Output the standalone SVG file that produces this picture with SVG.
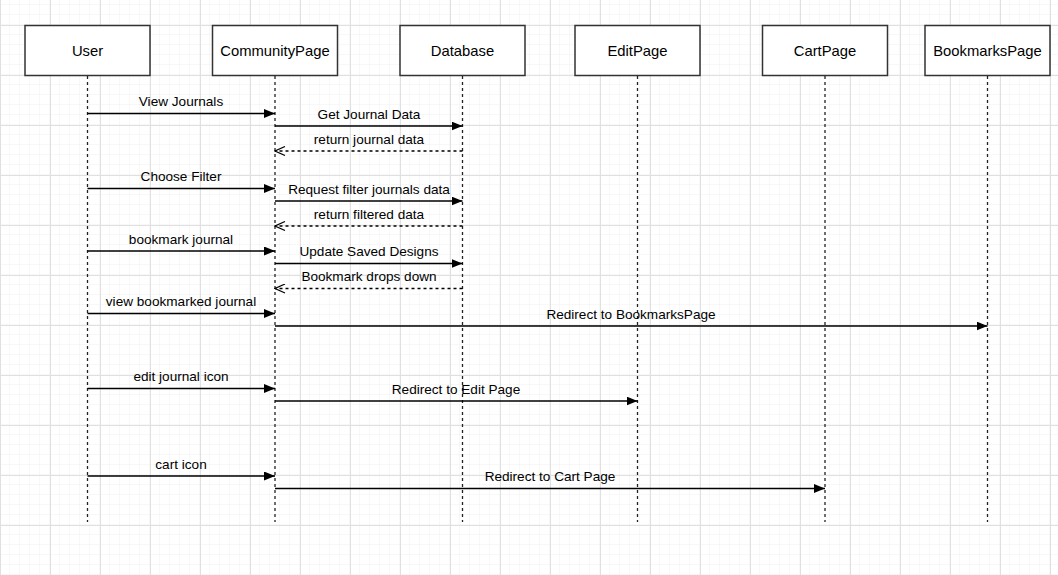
<svg xmlns="http://www.w3.org/2000/svg" width="1058" height="575" viewBox="0 0 1058 575">
<defs>
<pattern id="minor" width="10" height="10" patternUnits="userSpaceOnUse" x="0" y="5">
<path d="M10 0V10M0 10H10" fill="none" stroke="#f1f1f1" stroke-width="1"/>
</pattern>
<pattern id="major" width="50" height="50" patternUnits="userSpaceOnUse" x="0" y="25">
<path d="M0.5 0V50M0 0.5H50" fill="none" stroke="#e0e0e0" stroke-width="1"/>
</pattern>
<marker id="fill" viewBox="0 0 11 9" refX="11" refY="4.5" markerWidth="11" markerHeight="9" markerUnits="userSpaceOnUse" orient="auto">
<path d="M0 0L11 4.5L0 9Z" fill="#000"/>
</marker>
<marker id="open" viewBox="0 0 12 10" refX="11" refY="5" markerWidth="12" markerHeight="10" markerUnits="userSpaceOnUse" orient="auto">
<path d="M1 0.5L11 5L1 9.5" fill="none" stroke="#000" stroke-width="1.2"/>
</marker>
<style>
.box{fill:#fff;stroke:#333;stroke-width:1.5}
.life{stroke:#222;stroke-width:1.3;stroke-dasharray:3 3;fill:none}
.msg{stroke:#000;stroke-width:1.3;fill:none;marker-end:url(#fill)}
.ret{stroke:#000;stroke-width:1.3;fill:none;stroke-dasharray:3 3;marker-end:url(#open)}
.nl{font-family:"Liberation Sans",Arial,sans-serif;font-size:14.8px;fill:#000;text-anchor:middle}
.ml{font-family:"Liberation Sans",Arial,sans-serif;font-size:13.6px;fill:#000;text-anchor:middle}
</style>
</defs>
<rect width="1058" height="575" fill="#fff"/>
<rect width="1058" height="575" fill="url(#minor)"/>
<rect width="1058" height="575" fill="url(#major)"/>

<g id="User"><rect class="box" x="25" y="25.5" width="125" height="50"/><text class="nl" x="87.5" y="55.5">User</text><line class="life" x1="87.5" y1="76" x2="87.5" y2="522"/></g>
<g id="CommunityPage"><rect class="box" x="212.5" y="25.5" width="125" height="50"/><text class="nl" x="275" y="55.5">CommunityPage</text><line class="life" x1="275" y1="76" x2="275" y2="522"/></g>
<g id="Database"><rect class="box" x="400" y="25.5" width="125" height="50"/><text class="nl" x="462.5" y="55.5">Database</text><line class="life" x1="462.5" y1="76" x2="462.5" y2="522"/></g>
<g id="EditPage"><rect class="box" x="575" y="25.5" width="125" height="50"/><text class="nl" x="637.5" y="55.5">EditPage</text><line class="life" x1="637.5" y1="76" x2="637.5" y2="522"/></g>
<g id="CartPage"><rect class="box" x="762.5" y="25.5" width="125" height="50"/><text class="nl" x="825" y="55.5">CartPage</text><line class="life" x1="825" y1="76" x2="825" y2="522"/></g>
<g id="BookmarksPage"><rect class="box" x="925" y="25.5" width="125" height="50"/><text class="nl" x="987.5" y="55.5">BookmarksPage</text><line class="life" x1="987.5" y1="76" x2="987.5" y2="522"/></g>

<g id="connectors">
<line class="msg" x1="87.5" y1="113.5" x2="275" y2="113.5"/>
<line class="msg" x1="275" y1="126" x2="462.5" y2="126"/>
<line class="ret" x1="462.5" y1="151" x2="275" y2="151"/>
<line class="msg" x1="87.5" y1="188.5" x2="275" y2="188.5"/>
<line class="msg" x1="275" y1="201" x2="462.5" y2="201"/>
<line class="ret" x1="462.5" y1="226" x2="275" y2="226"/>
<line class="msg" x1="87.5" y1="251" x2="275" y2="251"/>
<line class="msg" x1="275" y1="263.5" x2="462.5" y2="263.5"/>
<line class="ret" x1="462.5" y1="288.5" x2="275" y2="288.5"/>
<line class="msg" x1="87.5" y1="313.5" x2="275" y2="313.5"/>
<line class="msg" x1="275" y1="326" x2="987.5" y2="326"/>
<line class="msg" x1="87.5" y1="388.5" x2="275" y2="388.5"/>
<line class="msg" x1="275" y1="401" x2="637.5" y2="401"/>
<line class="msg" x1="87.5" y1="476" x2="275" y2="476"/>
<line class="msg" x1="275" y1="488.5" x2="825" y2="488.5"/>
</g>
<g id="labels">
<text class="ml" x="181" y="106">View Journals</text>
<text class="ml" x="369" y="119">Get Journal Data</text>
<text class="ml" x="369" y="144">return journal data</text>
<text class="ml" x="181" y="181">Choose Filter</text>
<text class="ml" x="369" y="194">Request filter journals data</text>
<text class="ml" x="369" y="219">return filtered data</text>
<text class="ml" x="181" y="244">bookmark journal</text>
<text class="ml" x="369" y="256">Update Saved Designs</text>
<text class="ml" x="369" y="281">Bookmark drops down</text>
<text class="ml" x="181" y="306">view bookmarked journal</text>
<text class="ml" x="631" y="319">Redirect to BookmarksPage</text>
<text class="ml" x="181" y="381">edit journal icon</text>
<text class="ml" x="456" y="394">Redirect to Edit Page</text>
<text class="ml" x="181" y="469">cart icon</text>
<text class="ml" x="550" y="481">Redirect to Cart Page</text>
</g>
</svg>
